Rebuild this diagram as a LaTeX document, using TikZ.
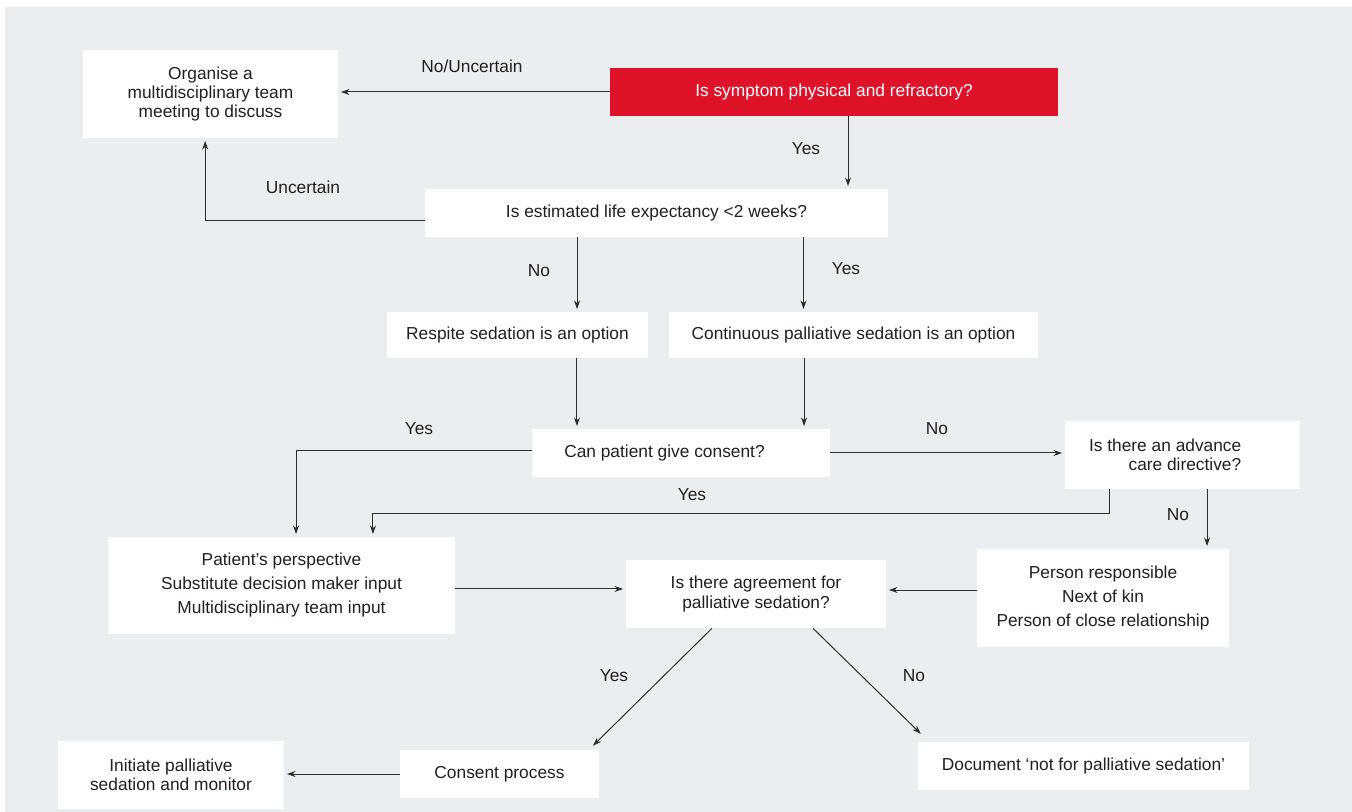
\documentclass[tikz,border=0pt]{standalone}
\usepackage{fontspec}
\setmainfont{Liberation Sans}
\usetikzlibrary{arrows.meta}
\definecolor{panel}{HTML}{ECEDEF}
\definecolor{symred}{HTML}{DE1229}
\definecolor{ink}{HTML}{231F20}
\definecolor{wire}{HTML}{2E2E2E}
\begin{document}
\begin{tikzpicture}[x=0.75pt,y=-0.75pt,
    every node/.style={font=\fontsize{13}{14.5}\selectfont, text=ink},
    box/.style={fill=white, align=center, inner sep=0pt},
    listbox/.style={box, font=\fontsize{13}{18}\selectfont},
    arr/.style={draw=wire, line width=0.75pt, -{Stealth[length=6.5pt,width=4.5pt]}, shorten >=2pt},
    lbl/.style={inner sep=0pt}]
    \useasboundingbox (0,0) rectangle (1352,812);
    \fill[white] (0,0) rectangle (1352,812);
    \fill[panel] (5,7) rectangle (1352,812);

    \node[box, minimum width=191.25pt, minimum height=66pt] (org) at (210.5,94) {Organise a\\multidisciplinary team\\meeting to discuss};
    \node[box, fill=symred, text=white, minimum width=336pt, minimum height=36pt] (sym) at (834,92) {Is symptom physical and refractory?};
    \node[box, minimum width=347.25pt, minimum height=36pt] (life) at (656.5,213) {Is estimated life expectancy <2 weeks?};
    \node[box, minimum width=195.75pt, minimum height=34.5pt] (resp) at (517.5,335) {Respite sedation is an option};
    \node[box, minimum width=276.75pt, minimum height=34.5pt] (cont) at (853.5,335) {Continuous palliative sedation is an option};
    \node[box, minimum width=223.5pt, minimum height=36pt] (cons) at (681,453) {Can patient give consent?\hspace*{24.8pt}};
    \node[box, align=right, minimum width=176.25pt, minimum height=51pt] (adv) at (1182.5,455) {Is there an advance\hspace*{26pt}\\care directive?\hspace*{26pt}};
    \node[listbox, minimum width=260.25pt, minimum height=72.75pt] (patient) at (281.5,585.5) {Patient’s perspective\\Substitute decision maker input\\Multidisciplinary team input};
    \node[listbox, minimum width=189pt, minimum height=73.5pt] (person) at (1103,598) {Person responsible\\Next of kin\\Person of close relationship};
    \node[box, minimum width=195pt, minimum height=51pt] (agree) at (756,594) {Is there agreement for\\palliative sedation?};
    \node[box, minimum width=149.25pt, minimum height=36pt] (cproc) at (499.5,774) {Consent process};
    \node[box, minimum width=248.25pt, minimum height=36pt] (doc) at (1083.5,766) {Document ‘not for palliative sedation’};
    \node[box, minimum width=169.5pt, minimum height=51pt] (init) at (171,775) {Initiate palliative\\sedation and monitor};

    \draw[arr] (sym.west) -- (sym.west -| org.east);
    \draw[arr] ([xshift=10.5pt]sym.south) -- ([xshift=10.5pt]sym.south |- life.north);
    \draw[arr] ([yshift=-5.5pt]life.west) -| ([xshift=-4pt]org.south);
    \draw[arr] ([xshift=-59.6pt]life.south) -- ([xshift=-59.6pt]life.south |- resp.north);
    \draw[arr] ([xshift=110.25pt]life.south) -- ([xshift=110.25pt]life.south |- cont.north);
    \draw[arr] ([xshift=44.6pt]resp.south) -- ([xshift=44.6pt]resp.south |- cons.north);
    \draw[arr] ([xshift=-37.1pt]cont.south) -- ([xshift=-37.1pt]cont.south |- cons.north);
    \draw[arr] ([yshift=1.5pt]cons.west) -| ([xshift=10.9pt]patient.north);
    \draw[arr] (cons.east) -- (cons.east -| adv.west);
    \draw[arr] ([xshift=-54.4pt]adv.south) -- ++(0,24) -| ([xshift=68.6pt]patient.north);
    \draw[arr] ([xshift=18.4pt]adv.south) -- ([xshift=18.4pt]adv.south |- person.north);
    \draw[arr] ([yshift=-2.6pt]patient.east) -- ([yshift=-2.6pt]patient.east -| agree.west);
    \draw[arr] ([yshift=6pt]person.west) -- ([yshift=6pt]person.west -| agree.east);
    \draw[arr, shorten >=0pt] ([xshift=-33pt]agree.south) -- ([xshift=70.1pt, yshift=3pt]cproc.north);
    \draw[arr, shorten >=0pt] ([xshift=42.75pt]agree.south) -- ([xshift=2.25pt, yshift=6pt]doc.north west);
    \draw[arr] (cproc.west) -- (cproc.west -| init.east);

    \foreach \x/\y/\t [count=\i] in {472/66/{No/Uncertain}, 806/149/Yes, 303/187/Uncertain,
        539/271/No, 846/269/Yes, 419/429/Yes, 937/429/No, 692/495/Yes,
        1178/515/No, 614/676/Yes, 914/676/No}
    \node[lbl] (ans\i) at (\x,\y) {\t};
\end{tikzpicture}
\end{document}
